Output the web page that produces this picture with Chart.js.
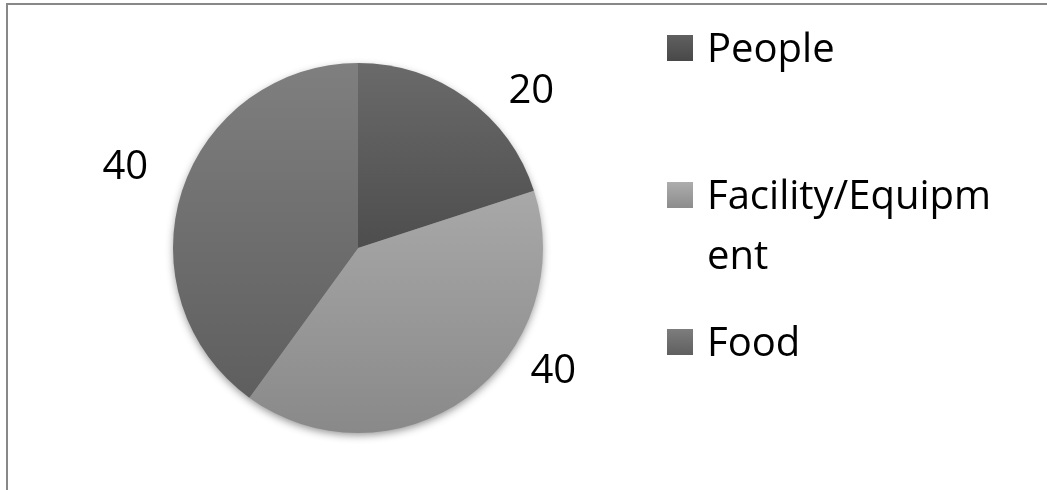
<!DOCTYPE html>
<html>
<head>
<meta charset="utf-8">
<script src="https://cdn.jsdelivr.net/npm/chart.js@4.4.1/dist/chart.umd.min.js"></script>
<style>
  html, body { margin: 0; padding: 0; background: #fff; }
  #wrap { position: relative; width: 1047px; height: 490px; overflow: hidden; }
  #frame {
    position: absolute; left: 6px; top: 3px; width: 1100px; height: 600px;
    border-left: 2px solid #888; border-top: 2px solid #888;
  }
  canvas { position: absolute; left: 0; top: 0; }
</style>
</head>
<body>
<div id="wrap">
  <div id="frame"></div>
  <canvas id="pieChart" width="1047" height="490"></canvas>
</div>
<script>
// Data
const categories = ['People', 'Facility/Equipment', 'Food'];
const legendLines = [['People'], ['Facility/Equipm', 'ent'], ['Food']];
const values = [20, 40, 40];

// gradient stops (top, bottom) per slice
const sliceTop = ['#6a6a6a', '#b9b9b9', '#7f7f7f'];
const sliceBottom = ['#313131', '#898989', '#5b5b5b'];
const legendTop = ['#606060', '#adadad', '#7d7d7d'];
const legendBottom = ['#484848', '#8c8c8c', '#5f5f5f'];

const FONT = '"Open Sans", "Liberation Sans", sans-serif';

function sliceGradient(context) {
    const chart = context.chart;
    const area = chart.chartArea;
    if (!area) return sliceTop[context.dataIndex];
    const g = chart.ctx.createLinearGradient(0, area.top, 0, area.bottom);
    g.addColorStop(0, sliceTop[context.dataIndex]);
    g.addColorStop(1, sliceBottom[context.dataIndex]);
    return g;
}

// soft shadow under the whole pie
const shadowPlugin = {
    id: 'pieShadow',
    beforeDatasetsDraw(chart) {
        const arc = chart.getDatasetMeta(0).data[0];
        if (!arc) return;
        const ctx = chart.ctx;
        ctx.save();
        ctx.shadowColor = 'rgba(0,0,0,0.45)';
        ctx.shadowBlur = 9;
        ctx.shadowOffsetY = 3;
        ctx.fillStyle = '#777';
        ctx.beginPath();
        ctx.arc(arc.x, arc.y, arc.outerRadius - 1, 0, Math.PI * 2);
        ctx.fill();
        ctx.restore();
    }
};

// value labels outside the slices
const valueLabelPlugin = {
    id: 'valueLabels',
    afterDatasetsDraw(chart, args, opts) {
        const ctx = chart.ctx;
        const meta = chart.getDatasetMeta(0);
        ctx.save();
        ctx.font = opts.font;
        ctx.fillStyle = '#000';
        ctx.textAlign = 'center';
        ctx.textBaseline = 'middle';
        meta.data.forEach((arc, i) => {
            const a = arc.startAngle + (arc.endAngle - arc.startAngle) * opts.anglePos[i];
            const r = arc.outerRadius * opts.radiusPos[i];
            const x = arc.x + Math.cos(a) * r;
            const y = arc.y + Math.sin(a) * r;
            ctx.fillText(String(values[i]), x, y);
        });
        ctx.restore();
    }
};

// legend on the right, with Excel-style wrapped label
const sideLegendPlugin = {
    id: 'sideLegend',
    afterDraw(chart, args, opts) {
        const ctx = chart.ctx;
        ctx.save();
        ctx.font = opts.font;
        ctx.textAlign = 'left';
        ctx.textBaseline = 'alphabetic';
        legendLines.forEach((lines, i) => {
            const top = opts.itemTops[i];
            const s = opts.boxSize;
            const g = ctx.createLinearGradient(0, top, 0, top + s);
            g.addColorStop(0, legendTop[i]);
            g.addColorStop(1, legendBottom[i]);
            ctx.fillStyle = g;
            ctx.fillRect(opts.x, top, s, s);
            ctx.fillStyle = '#000';
            lines.forEach((line, j) => {
                ctx.fillText(line, opts.x + opts.textGap, top + s + 1 + j * opts.lineHeight);
            });
        });
        ctx.restore();
    }
};

const pieCtx = document.getElementById('pieChart').getContext('2d');
const pieChart = new Chart(pieCtx, {
    type: 'pie',
    data: {
        labels: categories,
        datasets: [{
            data: values,
            backgroundColor: sliceGradient,
            borderWidth: 0
        }]
    },
    options: {
        responsive: false,
        animation: false,
        layout: {
            padding: { left: 173, right: 504, top: 63, bottom: 57 }
        },
        plugins: {
            legend: { display: false },
            tooltip: { enabled: false },
            valueLabels: {
                font: '40px ' + FONT,
                anglePos: [0.667, 0.35, 0.507],
                radiusPos: [1.26, 1.25, 1.33]
            },
            sideLegend: {
                font: '40px ' + FONT,
                x: 667,
                boxSize: 26,
                textGap: 40,
                lineHeight: 60,
                itemTops: [35, 182, 329]
            }
        }
    },
    plugins: [shadowPlugin, valueLabelPlugin, sideLegendPlugin]
});
</script>
</body>
</html>
